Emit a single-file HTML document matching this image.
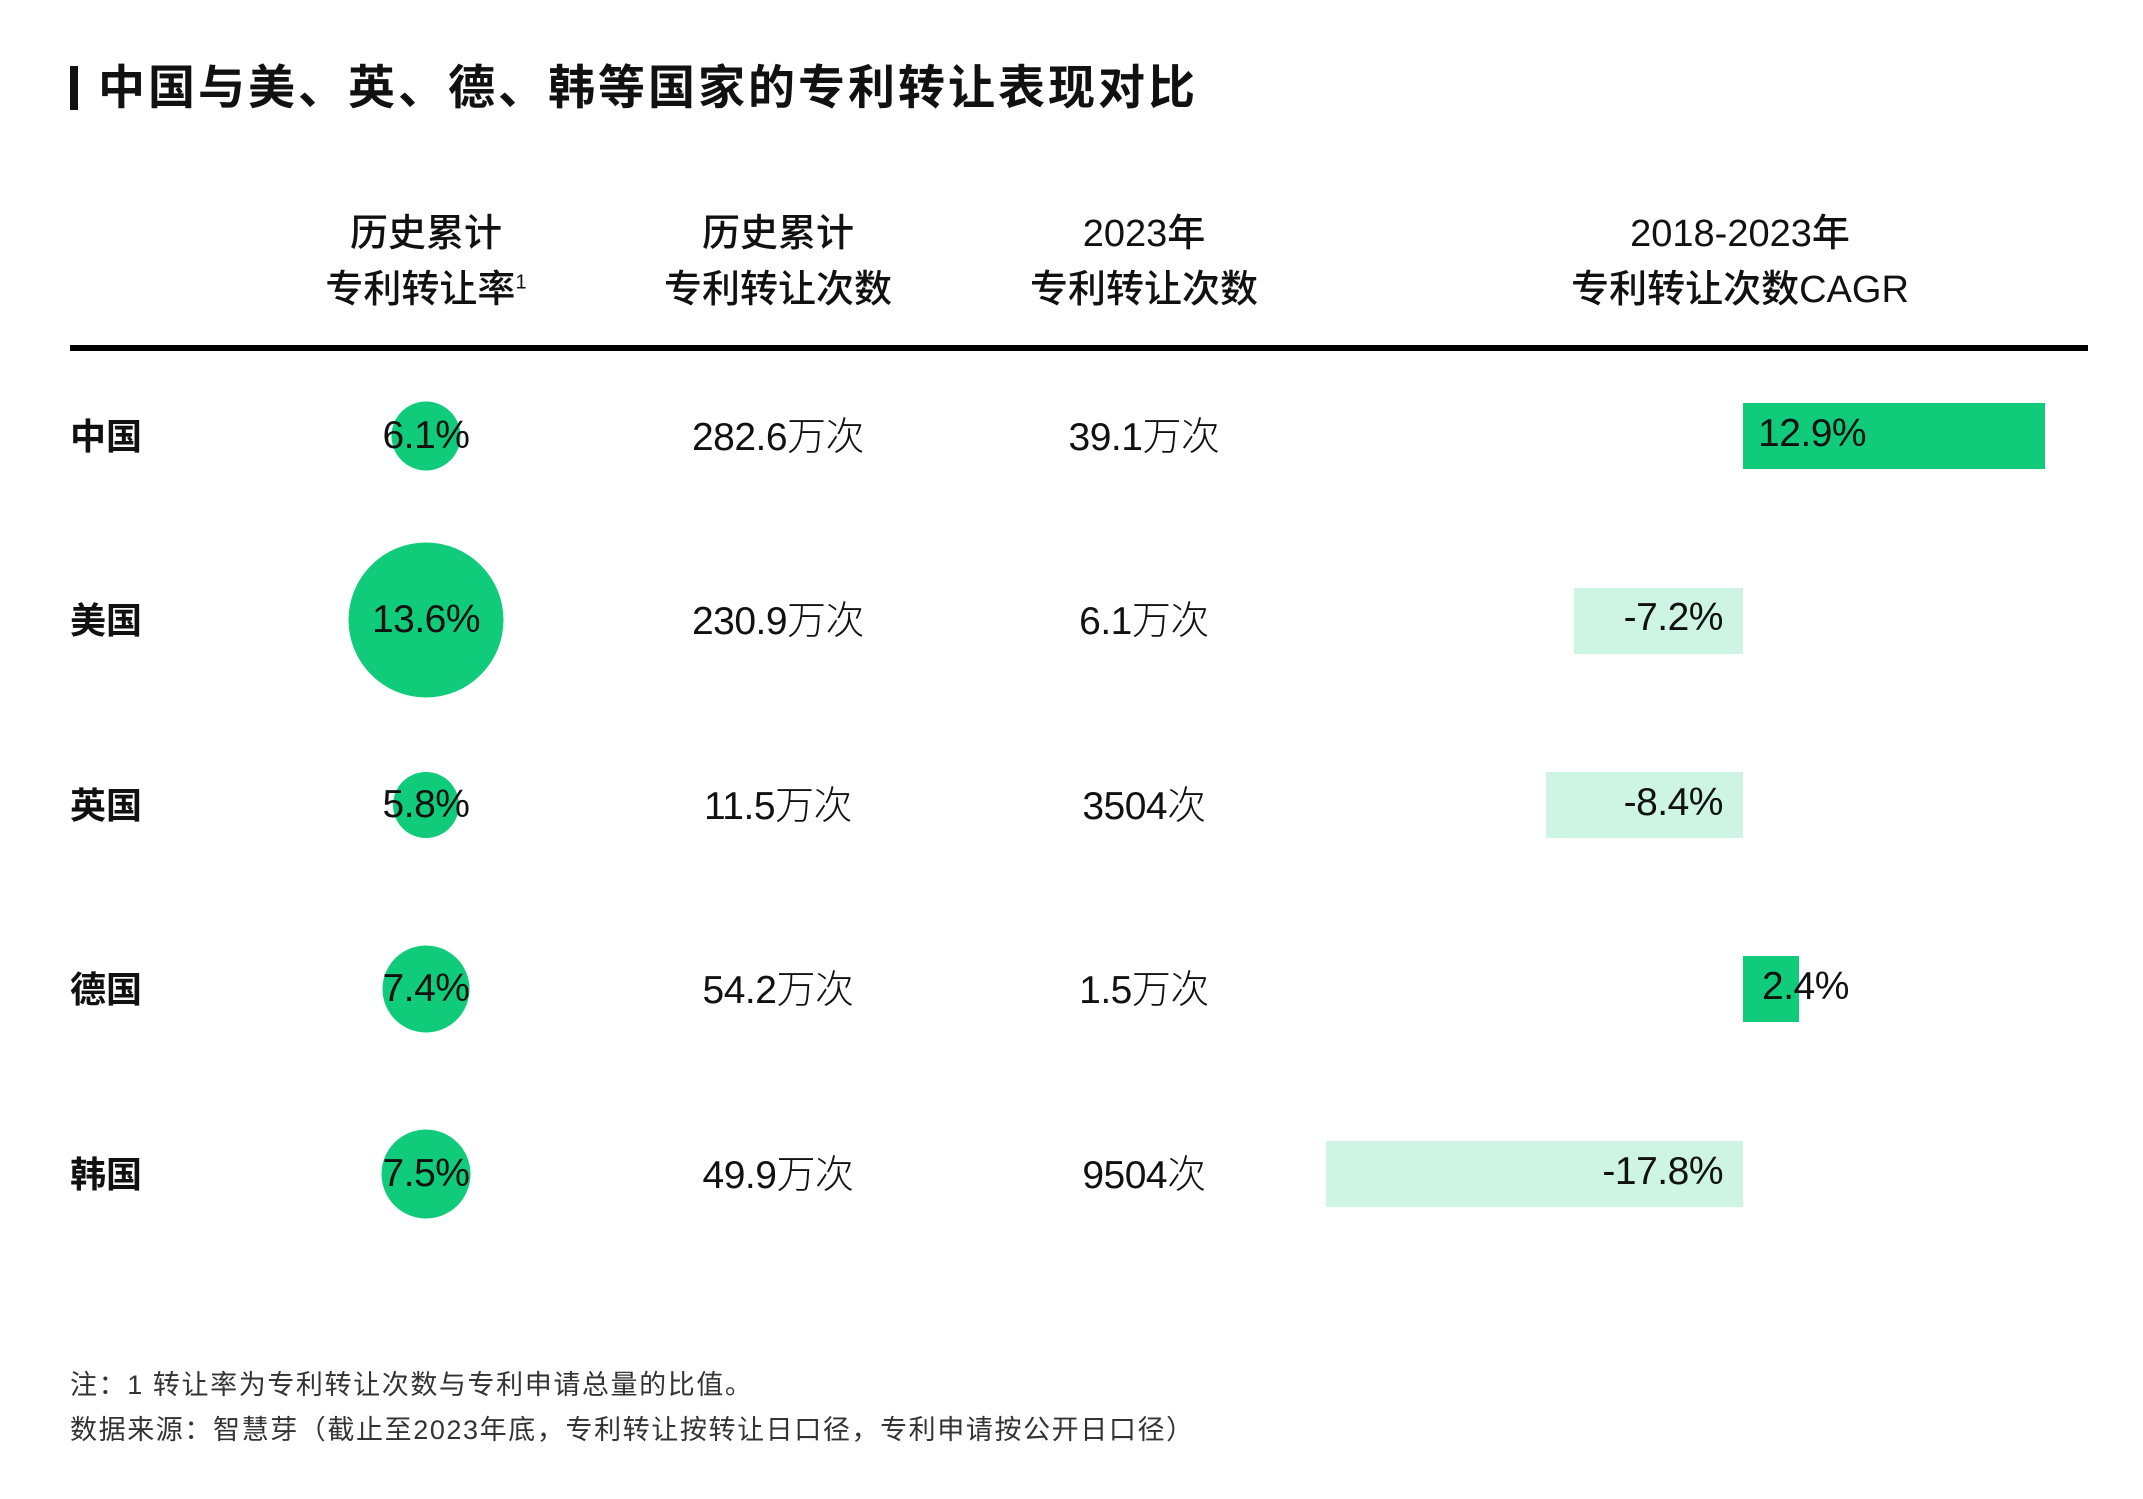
<!DOCTYPE html>
<html><head><meta charset="utf-8"><style>
body{margin:0;width:2143px;height:1499px;background:#fff;position:relative;overflow:hidden;font-family:"Liberation Sans","Noto Sans CJK SC",sans-serif;color:#111}
.a{position:absolute;white-space:nowrap}
.c{transform:translate(-50%,-50%)}
.h{font-size:38px;font-weight:500;text-align:center;line-height:56px}
.v{font-size:39px;font-weight:300;letter-spacing:-0.5px}
.r{font-size:36px;font-weight:bold}
.circ{position:absolute;border-radius:50%;background:#10cc7a;transform:translate(-50%,-50%)}
.bar{position:absolute;height:66px}
.g{background:#10cc7a}.l{background:#cef5e3}
.f{font-size:27px;color:#333;letter-spacing:1.6px}
sup{line-height:0}
</style></head><body>
<div class="a" style="left:70px;top:66px;width:8px;height:44px;background:#111"></div>
<div class="a" style="left:98px;top:58px;font-size:47px;font-weight:bold;line-height:60px;letter-spacing:3px">中国与美、英、德、韩等国家的专利转让表现对比</div>

<div class="a c h" style="left:426px;top:262px">历史累计<br>专利转让率<sup style="font-size:20px">1</sup></div>
<div class="a c h" style="left:778px;top:262px">历史累计<br>专利转让次数</div>
<div class="a c h" style="left:1144px;top:262px">2023年<br>专利转让次数</div>
<div class="a c h" style="left:1740px;top:262px">2018-2023年<br>专利转让次数CAGR</div>
<div class="a" style="left:70px;top:345px;width:2018px;height:6px;background:#000"></div>

<div class="bar g" style="left:1743px;width:302px;top:403px"></div>
<div class="bar l" style="left:1574px;width:169px;top:588px"></div>
<div class="bar l" style="left:1546px;width:197px;top:772px"></div>
<div class="bar g" style="left:1743px;width:56px;top:956px"></div>
<div class="bar l" style="left:1326px;width:417px;top:1141px"></div>

<div class="circ" style="left:426px;top:436px;width:69px;height:69px"></div>
<div class="circ" style="left:426px;top:620px;width:155px;height:155px"></div>
<div class="circ" style="left:426px;top:805px;width:66px;height:66px"></div>
<div class="circ" style="left:426px;top:989px;width:87px;height:87px"></div>
<div class="circ" style="left:426px;top:1174px;width:89px;height:89px"></div>

<div class="a r" style="left:70px;top:408px">中国</div>
<div class="a r" style="left:70px;top:592px">美国</div>
<div class="a r" style="left:70px;top:777px">英国</div>
<div class="a r" style="left:70px;top:961px">德国</div>
<div class="a r" style="left:70px;top:1146px">韩国</div>

<div class="a c v" style="left:426px;top:436px">6.1%</div>
<div class="a c v" style="left:426px;top:620px">13.6%</div>
<div class="a c v" style="left:426px;top:805px">5.8%</div>
<div class="a c v" style="left:426px;top:989px">7.4%</div>
<div class="a c v" style="left:426px;top:1174px">7.5%</div>

<div class="a c v" style="left:778px;top:434px">282.6万次</div>
<div class="a c v" style="left:778px;top:618px">230.9万次</div>
<div class="a c v" style="left:778px;top:803px">11.5万次</div>
<div class="a c v" style="left:778px;top:987px">54.2万次</div>
<div class="a c v" style="left:778px;top:1172px">49.9万次</div>

<div class="a c v" style="left:1144px;top:434px">39.1万次</div>
<div class="a c v" style="left:1144px;top:618px">6.1万次</div>
<div class="a c v" style="left:1144px;top:803px">3504次</div>
<div class="a c v" style="left:1144px;top:987px">1.5万次</div>
<div class="a c v" style="left:1144px;top:1172px">9504次</div>

<div class="a v" style="left:1758px;top:412px">12.9%</div>
<div class="a v" style="right:420px;top:596px">-7.2%</div>
<div class="a v" style="right:420px;top:781px">-8.4%</div>
<div class="a v" style="left:1762px;top:965px">2.4%</div>
<div class="a v" style="right:420px;top:1150px">-17.8%</div>

<div class="a f" style="left:70px;top:1363px">注：1 转让率为专利转让次数与专利申请总量的比值。</div>
<div class="a f" style="left:70px;top:1408px">数据来源：智慧芽（截止至2023年底，专利转让按转让日口径，专利申请按公开日口径）</div>
</body></html>
